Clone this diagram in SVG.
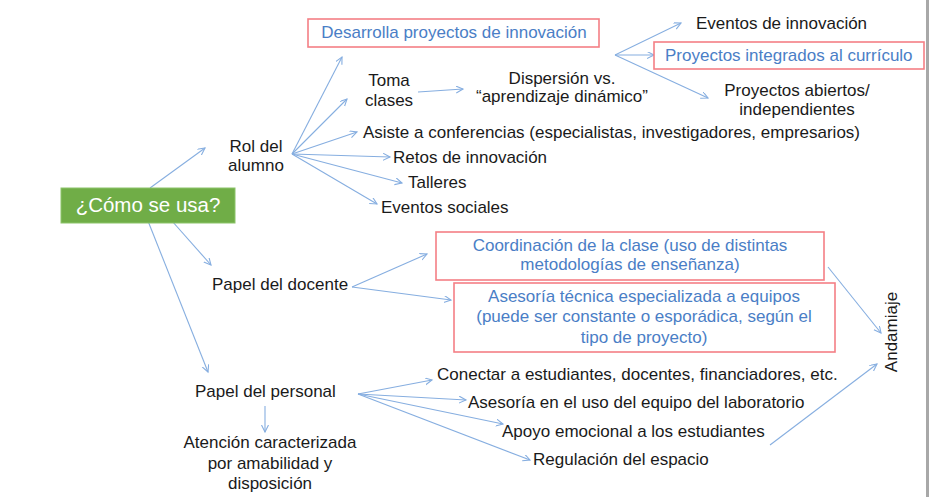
<svg xmlns="http://www.w3.org/2000/svg" width="934" height="501" viewBox="0 0 934 501">
<defs>
<style>
text{font-family:"Liberation Sans",Arial,sans-serif;font-size:17px;fill:#1a1a1a}
.b{fill:#4a7ec6}
.m{text-anchor:middle}
.box{fill:#fff;stroke:#f47f85;stroke-width:1.6}
.c line{stroke:#86aee0;stroke-width:1.1;marker-end:url(#ah)}
</style>
<marker id="ah" markerUnits="userSpaceOnUse" markerWidth="10" markerHeight="10" refX="7" refY="3.5" orient="auto">
<path d="M0,0 L7,3.5 L0,7" fill="none" stroke="#86aee0" stroke-width="1.1"/>
</marker>
</defs>
<rect width="934" height="501" fill="#fff"/>
<rect x="926" y="0" width="3" height="497" fill="#a8a8a8"/>
<g class="c" id="connectors">
<line x1="150" y1="188" x2="205" y2="148"/>
<line x1="292" y1="154" x2="342" y2="57"/>
<line x1="292" y1="154" x2="347" y2="99"/>
<line x1="292" y1="154" x2="357" y2="132"/>
<line x1="292" y1="154" x2="390" y2="157"/>
<line x1="292" y1="154" x2="402" y2="183"/>
<line x1="292" y1="154" x2="377" y2="204"/>
<line x1="418" y1="92" x2="463" y2="89"/>
<line x1="615" y1="55" x2="681" y2="23"/>
<line x1="615" y1="55" x2="654" y2="55"/>
<line x1="615" y1="55" x2="708" y2="98"/>
<line x1="172" y1="221" x2="211" y2="265"/>
<line x1="148" y1="221" x2="208" y2="372"/>
<line x1="352" y1="287" x2="427" y2="254"/>
<line x1="352" y1="287" x2="451" y2="300"/>
<line x1="358" y1="394" x2="432" y2="380"/>
<line x1="358" y1="394" x2="466" y2="400"/>
<line x1="358" y1="394" x2="503" y2="424"/>
<line x1="358" y1="394" x2="530" y2="460"/>
<line x1="265" y1="406" x2="265" y2="432"/>
<line x1="828" y1="267" x2="881" y2="333"/>
<line x1="770" y1="445" x2="877" y2="364"/>
</g>
<g id="root">
<rect x="61" y="188" width="174" height="35" fill="#70ad47" stroke="#8cc46a" stroke-width="1"/>
<text class="m" x="148" y="212" style="font-size:20.5px;fill:#fff">¿Cómo se usa?</text>
</g>
<g id="rol"><text class="m" x="256" y="152">Rol del</text><text class="m" x="256" y="171">alumno</text></g>
<g id="desarrolla"><rect class="box" x="308" y="19" width="291" height="28"/><text class="b m" x="454" y="38">Desarrolla proyectos de innovación</text></g>
<g id="toma"><text class="m" x="389" y="86">Toma</text><text class="m" x="389" y="106">clases</text></g>
<g id="dispersion"><text class="m" x="562" y="84">Dispersión vs.</text><text class="m" x="562" y="102">“aprendizaje dinámico”</text></g>
<g id="eventos-innov"><text x="696" y="29">Eventos de innovación</text></g>
<g id="integrados"><rect class="box" x="654" y="42" width="270" height="27"/><text class="b" x="665" y="61">Proyectos integrados al currículo</text></g>
<g id="abiertos"><text class="m" x="797" y="96">Proyectos abiertos/</text><text class="m" x="797" y="115">independientes</text></g>
<g id="asiste"><text x="363" y="138">Asiste a conferencias (especialistas, investigadores, empresarios)</text></g>
<g id="retos"><text x="393" y="163">Retos de innovación</text></g>
<g id="talleres"><text x="408" y="188">Talleres</text></g>
<g id="eventos-soc"><text x="381" y="213">Eventos sociales</text></g>
<g id="docente"><text x="212" y="290">Papel del docente</text></g>
<g id="coordinacion"><rect class="box" x="436" y="232" width="388" height="48"/><text class="b m" x="630" y="251">Coordinación de la clase (uso de distintas</text><text class="b m" x="630" y="270">metodologías de enseñanza)</text></g>
<g id="asesoria-tec"><rect class="box" x="454" y="283" width="381" height="69"/><text class="b m" x="644" y="302">Asesoría técnica especializada a equipos</text><text class="b m" x="644" y="322">(puede ser constante o esporádica, según el</text><text class="b m" x="644" y="343">tipo de proyecto)</text></g>
<g id="personal"><text x="195" y="397">Papel del personal</text></g>
<g id="atencion"><text class="m" x="270" y="448">Atención caracterizada</text><text class="m" x="270" y="469">por amabilidad y</text><text class="m" x="270" y="489">disposición</text></g>
<g id="conectar"><text x="437" y="380">Conectar a estudiantes, docentes, financiadores, etc.</text></g>
<g id="asesoria-uso"><text x="468" y="408">Asesoría en el uso del equipo del laboratorio</text></g>
<g id="apoyo"><text x="502" y="437">Apoyo emocional a los estudiantes</text></g>
<g id="regulacion"><text x="533" y="465">Regulación del espacio</text></g>
<g id="andamiaje"><text class="m" transform="translate(897,332) rotate(-90)">Andamiaje</text></g>
</svg>
